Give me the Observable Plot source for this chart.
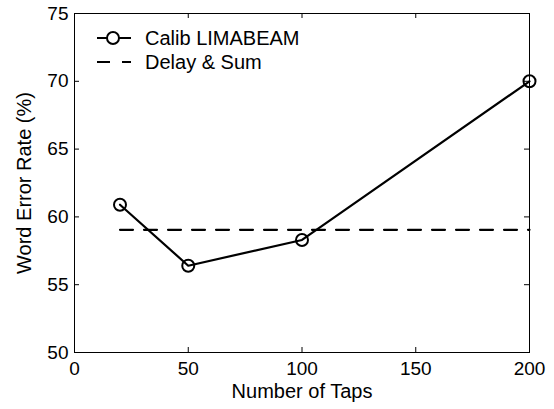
<!DOCTYPE html>
<html>
<head>
<meta charset="utf-8">
<script src="https://cdn.jsdelivr.net/npm/d3@7"></script>
<script src="https://cdn.jsdelivr.net/npm/@observablehq/plot@0.6"></script>
<style>
  html, body { margin: 0; padding: 0; background: #fff; }
  #wrap { position: relative; width: 554px; height: 409px; font-family: "Liberation Sans", Arial, Helvetica, sans-serif; }
  #legend { position: absolute; left: 97px; top: 26px; font-size: 20px; color: #000; }
  #legend .row { display: flex; align-items: center; height: 24px; }
  #legend svg { margin-right: 14px; }
</style>
</head>
<body>
<div id="wrap"><div id="chart"></div><div id="legend"></div></div>
<script>
// Data
const taps = [20, 50, 100, 200];
const werCalib = [60.9, 56.4, 58.3, 70.0];
const delaySumWER = 59.05;
const delaySumX = [20, 200];
const xTicks = [0, 50, 100, 150, 200];
const yTicks = [50, 55, 60, 65, 70, 75];
const seriesNames = ["Calib LIMABEAM", "Delay & Sum"];

const calib = taps.map((t, i) => ({x: t, y: werCalib[i]}));
const delay = delaySumX.map(x => ({x, y: delaySumWER}));

const W = 554, H = 409;
const mL = 74, mR = 25, mT = 13, mB = 57;
const plotH = H - mT - mB, plotW = W - mL - mR;
const tick = 5;

const chart = Plot.plot({
  width: W, height: H,
  marginLeft: mL, marginRight: mR, marginTop: mT, marginBottom: mB,
  style: {fontFamily: '"Liberation Sans", Arial, Helvetica, sans-serif', fontSize: "19px", color: "#000", background: "#fff"},
  x: {domain: [0, 200]},
  y: {domain: [50, 75]},
  marks: [
    Plot.frame({stroke: "#000", strokeWidth: 1}),
    // inward ticks, bottom/top/left/right
    Plot.tickX(xTicks, {x: d => d, insetTop: plotH - tick, stroke: "#000"}),
    Plot.tickX(xTicks, {x: d => d, insetBottom: plotH - tick, stroke: "#000"}),
    Plot.tickY(yTicks, {y: d => d, insetRight: plotW - tick, stroke: "#000"}),
    Plot.tickY(yTicks, {y: d => d, insetLeft: plotW - tick, stroke: "#000"}),
    Plot.axisX(xTicks, {tickSize: 0, tickPadding: 9, label: null, fontSize: 19}),
    Plot.axisX({label: "Number of Taps", labelAnchor: "center", labelArrow: "none", labelOffset: 45, fontSize: 20, ticks: [], tickSize: 0}),
    Plot.axisY(yTicks, {tickSize: 0, tickPadding: 6, label: null, fontSize: 19}),
    Plot.axisY({label: "Word Error Rate (%)", labelAnchor: "center", labelArrow: "none", labelOffset: 58, fontSize: 20, ticks: [], tickSize: 0}),
    Plot.line(delay, {x: "x", y: "y", stroke: "#000", strokeWidth: 2.2, strokeDasharray: "13,11"}),
    Plot.line(calib, {x: "x", y: "y", stroke: "#000", strokeWidth: 2.2}),
    Plot.dot(calib, {x: "x", y: "y", r: 6, stroke: "#000", strokeWidth: 2, fill: "none"})
  ]
});
document.getElementById("chart").appendChild(chart);

// Legend (overlay inside plot area, as in the reference)
const legend = document.getElementById("legend");
seriesNames.forEach((name, i) => {
  const row = document.createElement("div");
  row.className = "row";
  const s = d3.create("svg").attr("width", 34).attr("height", 16);
  s.append("line").attr("x1", 0).attr("x2", 34).attr("y1", 8).attr("y2", 8)
    .attr("stroke", "#000").attr("stroke-width", 2.2)
    .attr("stroke-dasharray", i === 1 ? "13,12" : null);
  if (i === 0) s.append("circle").attr("cx", 16).attr("cy", 8).attr("r", 6)
    .attr("fill", "#fff").attr("stroke", "#000").attr("stroke-width", 2);
  row.appendChild(s.node());
  const t = document.createElement("span");
  t.textContent = name;
  row.appendChild(t);
  legend.appendChild(row);
});
</script>
</body>
</html>
